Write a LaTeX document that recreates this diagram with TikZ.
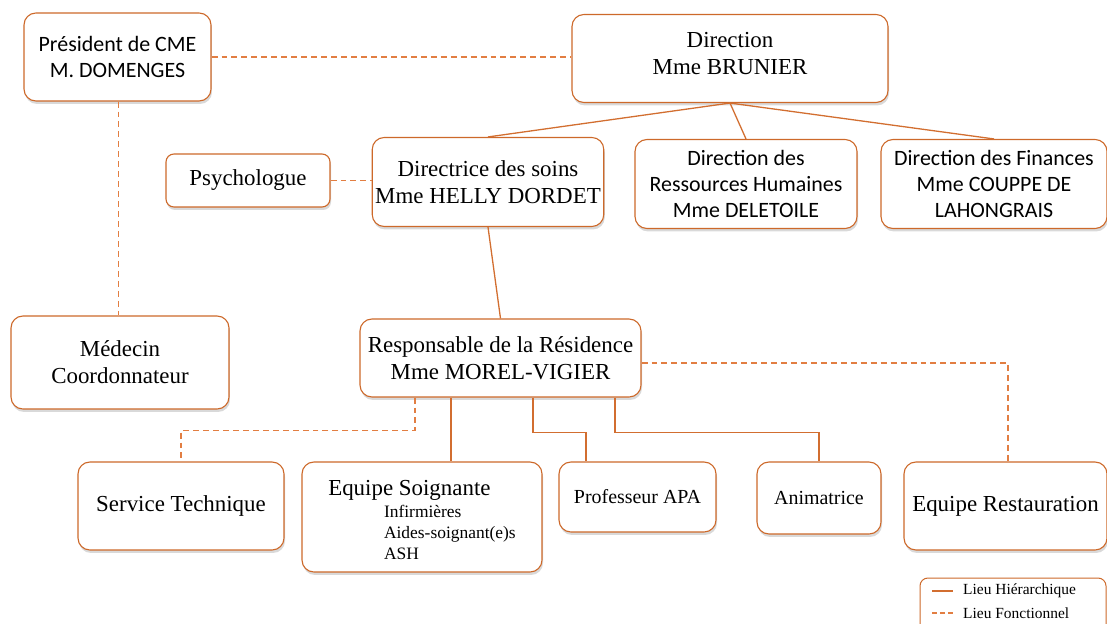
\documentclass[tikz,border=0pt]{standalone}
\usepackage{fontspec}
\setmainfont{Liberation Serif}
\newfontfamily\calibri{Carlito}
\usetikzlibrary{positioning,calc,shadows}

\definecolor{boxorange}{RGB}{205,105,42}
\definecolor{lineorange}{RGB}{210,110,48}
\definecolor{dashorange}{RGB}{226,126,66}

\begin{document}
\begin{tikzpicture}[
    x=1bp,
    y=-1bp,
    font=\fontsize{23}{27}\selectfont,
    box/.style={
        draw=boxorange,
        fill=white,
        rounded corners=12pt,
        line width=1.1pt,
        align=center,
        inner sep=3pt,
        drop shadow={shadow xshift=1pt,shadow yshift=-3pt,opacity=0.3}
    },
    smallbox/.style={
        box,
        rounded corners=8pt
    },
    sans/.style={
        font=\calibri\fontsize{22}{26.5}\selectfont
    },
    hier/.style={
        draw=lineorange,
        line width=1.3pt
    },
    func/.style={
        draw=dashorange,
        line width=1.8pt,
        dash pattern=on 6pt off 4pt
    }
]
    \useasboundingbox (0,0) rectangle (1107,624);

    % top row
    \node[box,sans,minimum width=187bp,minimum height=88bp] (pres) at (117.5,57) {Président de CME\\M. DOMENGES};
    \node[box,minimum width=316bp,minimum height=88bp] (dirg) at (730,58.5) {Direction\\Mme BRUNIER\rule[-10pt]{0pt}{10pt}};

    % second row
    \node[smallbox,minimum width=164bp,minimum height=53bp] (psy) at (248,180.5) {Psychologue};
    \node[box,minimum width=222bp,minimum height=89bp] (soins) at (488,182) {Directrice des soins\\Mme HELLY DORDET};
    \node[box,sans,minimum width=222bp,minimum height=89bp] (drh) at (746,184) {Direction des\\Ressources Humaines\\Mme DELETOILE};
    \node[box,sans,minimum width=226bp,minimum height=89bp] (fin) at (994,184) {Direction des Finances\\Mme COUPPE DE\\LAHONGRAIS};

    % third row
    \node[box,minimum width=218bp,minimum height=93bp] (med) at (120,362.5) {Médecin\\Coordonnateur};
    \node[box,minimum width=281bp,minimum height=78bp] (resp) at (500.5,358) {Responsable de la Résidence\\Mme MOREL-VIGIER};

    % bottom row
    \node[box,minimum width=206bp,minimum height=88bp] (tech) at (181,506) {Service Technique};
    \node[box,minimum width=240bp,minimum height=110bp] (soign) at (422,517) {%
        \begin{tabular}{@{}l@{}}
        \rule{0pt}{29pt}Equipe Soignante\\[-5pt]
        \hspace*{56pt}\fontsize{17.5}{21}\selectfont Infirmières\\[-6pt]
        \hspace*{56pt}\fontsize{17.5}{21}\selectfont Aides-soignant(e)s\\[-6pt]
        \hspace*{56pt}\fontsize{17.5}{21}\selectfont ASH
        \end{tabular}};
    \node[box,font=\fontsize{20}{24}\selectfont,minimum width=157bp,minimum height=70bp] (apa) at (637.5,497) {Professeur APA};
    \node[box,font=\fontsize{20}{24}\selectfont,minimum width=124bp,minimum height=72bp] (anim) at (819,498) {Animatrice};
    \node[box,minimum width=203bp,minimum height=88bp] (rest) at (1005.5,506) {Equipe Restauration};

    % hierarchy
    \draw[hier] (dirg.south) -- (soins.north);
    \draw[hier] (dirg.south) -- (drh.north);
    \draw[hier] (dirg.south) -- (fin.north);
    \draw[hier] (soins.south) -- (resp.north);
    \draw[hier] ([xshift=-49.5bp]resp.south) -- ([xshift=-49.5bp]resp.south |- soign.north);
    \draw[hier] ([xshift=32.5bp]resp.south) -- ++(0,35) -| ([xshift=-51.5bp]apa.north);
    \draw[hier] ([xshift=114.5bp]resp.south) -- ++(0,35) -| (anim.north);

    % functional links
    \draw[func] (pres.east) -- (pres.east -| dirg.west);
    \draw[func] ([xshift=1bp]pres.south) -- ([xshift=1bp]pres.south |- med.north);
    \draw[func] (psy.east) -- (psy.east -| soins.west);
    \draw[func] ([xshift=-85.5bp]resp.south) -- ++(0,33) -| (tech.north);
    \draw[func] ([yshift=-5bp]resp.east) -| ([xshift=2.5bp]rest.north);

    % legend
    \node[draw=boxorange,line width=1pt,rounded corners=8pt,minimum width=186bp,minimum height=70bp] (legend) at (1013,613) {};
    \node[anchor=west,font=\fontsize{15.5}{18}\selectfont,inner sep=0pt] (lh) at (963,591) {Lieu Hiérarchique};
    \node[anchor=west,font=\fontsize{15.5}{18}\selectfont,inner sep=0pt] (lf) at (963,613) {Lieu Fonctionnel};
    \draw[hier] (lh.west) ++(-31,0) -- ++(21,0);
    \draw[func,line width=1.5pt,dash pattern=on 5pt off 3pt] (lf.west) ++(-31,0) -- ++(21,0);
\end{tikzpicture}
\end{document}
